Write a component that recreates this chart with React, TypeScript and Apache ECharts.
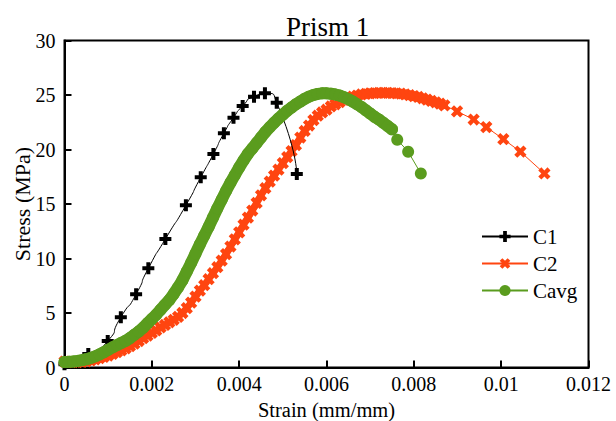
import React, { useEffect, useRef } from "react";
import * as echarts from "echarts";

const titleText = "Prism 1";
const xName = "Strain (mm/mm)";
const yName = "Stress (MPa)";
const seriesNames = ["C1", "C2", "Cavg"];

const c1Strain = [0, 0.000545, 0.00099, 0.00129, 0.00164, 0.00192, 0.00231, 0.00278, 0.00312, 0.00341, 0.00365, 0.00387, 0.00408, 0.00434, 0.00459, 0.00486, 0.00532];
const c1Stress = [0.3, 1.24, 2.43, 4.61, 6.72, 9.1, 11.79, 14.88, 17.45, 19.59, 21.49, 22.92, 23.99, 24.84, 25.16, 24.29, 17.75];

const c2Strain = [
  0, 0.0001, 0.0002, 0.0003, 0.0004, 0.0005, 0.0006, 0.0007, 0.0008, 0.0009,
  0.001, 0.0011, 0.0012, 0.0013, 0.0014, 0.0015, 0.0016, 0.0017, 0.0018, 0.0019,
  0.002, 0.0021, 0.0022, 0.0023, 0.0024, 0.0025, 0.0026, 0.0027, 0.0028, 0.0029,
  0.003, 0.0031, 0.0032, 0.0033, 0.0034, 0.0035, 0.0036, 0.0037, 0.0038, 0.0039,
  0.004, 0.0041, 0.0042, 0.0043, 0.0044, 0.0045, 0.0046, 0.0047, 0.0048, 0.0049,
  0.005, 0.0051, 0.0052, 0.0053, 0.0054, 0.0055, 0.0056, 0.0057, 0.0058, 0.0059,
  0.006, 0.0061, 0.0062, 0.0063, 0.0064, 0.0065, 0.0066, 0.0067, 0.0068, 0.0069,
  0.007, 0.0071, 0.0072, 0.0073, 0.0074, 0.0075, 0.0076, 0.0077, 0.0078, 0.0079,
  0.008, 0.0081, 0.0082, 0.0083, 0.0084, 0.0085, 0.0086, 0.0087,
  0.00899, 0.00937, 0.00966, 0.01005, 0.01044, 0.01099,
];
const c2Stress = [
  0.55, 0.52, 0.5, 0.5, 0.52, 0.57, 0.65, 0.75, 0.85, 0.98,
  1.1, 1.25, 1.4, 1.57, 1.75, 1.95, 2.18, 2.43, 2.7, 2.93,
  3.17, 3.4, 3.67, 3.9, 4.15, 4.38, 4.65, 5.0, 5.45, 5.95,
  6.5, 7.05, 7.55, 8.1, 8.65, 9.2, 9.8, 10.4, 11.1, 11.75,
  12.4, 13.1, 13.75, 14.4, 15.1, 15.8, 16.45, 17.05, 17.6, 18.15,
  18.75, 19.3, 19.85, 20.4, 21.1, 21.7, 22.2, 22.7, 23.1, 23.4,
  23.65, 23.95, 24.15, 24.35, 24.55, 24.7, 24.85, 24.95, 25.05, 25.1,
  25.15, 25.18, 25.2, 25.2, 25.2, 25.18, 25.16, 25.12, 25.05, 24.98,
  24.9, 24.82, 24.7, 24.58, 24.45, 24.33, 24.2, 24.05,
  23.5, 22.75, 22.05, 20.95, 19.8, 17.8,
];
const c2DenseCount = 88;

const cavgStrain = [
  0, 0.0001, 0.0002, 0.0003, 0.0004, 0.0005, 0.0006, 0.0007, 0.0008, 0.0009,
  0.001, 0.0011, 0.0012, 0.0013, 0.0014, 0.0015, 0.0016, 0.0017, 0.0018, 0.0019,
  0.002, 0.0021, 0.0022, 0.0023, 0.0024, 0.0025, 0.0026, 0.0027, 0.0028, 0.0029,
  0.003, 0.0031, 0.0032, 0.0033, 0.0034, 0.0035, 0.0036, 0.0037, 0.0038, 0.0039,
  0.004, 0.0041, 0.0042, 0.0043, 0.0044, 0.0045, 0.0046, 0.0047, 0.0048, 0.0049,
  0.005, 0.0051, 0.0052, 0.0053, 0.0054, 0.0055, 0.0056, 0.0057, 0.0058, 0.0059,
  0.006, 0.0061, 0.0062, 0.0063, 0.0064, 0.0065, 0.0066, 0.0067, 0.0068, 0.0069,
  0.007, 0.0071, 0.0072, 0.0073, 0.0074, 0.0075,
  0.00762, 0.00787, 0.00816,
];
const cavgStress = [
  0.5, 0.52, 0.55, 0.6, 0.67, 0.76, 0.88, 1.02, 1.2, 1.4,
  1.62, 1.85, 2.05, 2.25, 2.45, 2.7, 3.0, 3.3, 3.65, 4.05,
  4.45, 4.85, 5.3, 5.75, 6.2, 6.75, 7.35, 8.0, 8.8, 9.6,
  10.45, 11.3, 12.1, 12.9, 13.75, 14.6, 15.4, 16.2, 16.95, 17.65,
  18.35, 19.0, 19.6, 20.1, 20.6, 21.1, 21.6, 22.05, 22.45, 22.85,
  23.2, 23.55, 23.85, 24.15, 24.4, 24.65, 24.85, 25.0, 25.1, 25.15,
  25.15, 25.12, 25.05, 24.95, 24.8, 24.62, 24.4, 24.15, 23.9, 23.6,
  23.3, 23.0, 22.75, 22.45, 22.15, 21.85,
  20.9, 19.8, 17.8,
];
const cavgDenseCount = 76;

const xMin = 0;
const xMax = 0.012;
const xInterval = 0.002;
const yMin = 0;
const yMax = 30;
const yInterval = 5;

const FONT = "'Liberation Serif', 'Times New Roman', 'DejaVu Serif', serif";
const PLUS = "path://M4,0 H8 V4 H12 V8 H8 V12 H4 V8 H0 V4 H4 Z";
const BLACK = "#000000";
const ORANGE = "#FF4510";
const GREEN = "#5A9C1E";

function zip(a: number[], b: number[]) {
  return a.map((v, i) => [v, b[i]]);
}

export default function App() {
  const ref = useRef<HTMLDivElement>(null);
  useEffect(() => {
    if (!ref.current) return;
    const chart = echarts.init(ref.current, undefined, { renderer: "svg" });
    chart.setOption({
      animation: false,
      backgroundColor: "#fff",
      title: {
        text: titleText,
        left: 281,
        top: 8,
        textStyle: { fontFamily: FONT, fontSize: 27, fontWeight: "normal", color: "#000" },
      },
      grid: {
        left: 64.5,
        right: 27.5,
        top: 40.5,
        bottom: 53.5,
        containLabel: false,
        outerBoundsMode: "none",
        show: true,
        borderColor: "#000",
        borderWidth: 2,
        backgroundColor: "transparent",
      },
      legend: {
        data: seriesNames,
        orient: "vertical",
        left: 476,
        top: 221,
        itemWidth: 46,
        itemHeight: 14,
        itemGap: 6,
        textStyle: { fontFamily: FONT, fontSize: 21, color: "#000" },
      },
      xAxis: {
        type: "value",
        min: xMin,
        max: xMax,
        interval: xInterval,
        name: xName,
        nameLocation: "middle",
        nameGap: 32,
        nameMoveOverlap: false,
        nameTextStyle: { fontFamily: FONT, fontSize: 20.5, color: "#000" },
        axisLine: { show: true, lineStyle: { color: "#000", width: 2 } },
        axisTick: { show: true, inside: true, length: 7, lineStyle: { color: "#000", width: 2 } },
        axisLabel: {
          fontFamily: FONT,
          fontSize: 20,
          color: "#000",
          margin: 6,
          formatter: (v: number) => String(parseFloat(v.toFixed(4))),
        },
        splitLine: { show: false },
      },
      yAxis: {
        type: "value",
        min: yMin,
        max: yMax,
        interval: yInterval,
        name: yName,
        nameLocation: "middle",
        nameGap: 31,
        nameMoveOverlap: false,
        nameTextStyle: { fontFamily: FONT, fontSize: 22, color: "#000" },
        axisLine: { show: true, lineStyle: { color: "#000", width: 2 } },
        axisTick: { show: true, inside: true, length: 7, lineStyle: { color: "#000", width: 2 } },
        axisLabel: { fontFamily: FONT, fontSize: 20, color: "#000", margin: 9 },
        splitLine: { show: false },
      },
      series: [
        {
          name: "C2 band",
          type: "line",
          data: zip(c2Strain.slice(0, c2DenseCount), c2Stress.slice(0, c2DenseCount)),
          showSymbol: false,
          symbol: "none",
          silent: true,
          lineStyle: { color: ORANGE, width: 7, cap: "round", join: "round" },
          z: 2,
        },
        {
          name: "C2",
          type: "line",
          data: zip(c2Strain, c2Stress),
          symbol: PLUS,
          symbolSize: 13,
          symbolRotate: 45,
          color: ORANGE,
          lineStyle: { color: ORANGE, width: 1 },
          itemStyle: { color: ORANGE },
          z: 2,
        },
        {
          name: "C1",
          type: "line",
          data: zip(c1Strain, c1Stress),
          smooth: 0.9,
          symbol: PLUS,
          symbolSize: 12,
          color: BLACK,
          lineStyle: { color: BLACK, width: 1 },
          itemStyle: { color: BLACK },
          z: 3,
        },
        {
          name: "Cavg band",
          type: "line",
          data: zip(cavgStrain.slice(0, cavgDenseCount), cavgStress.slice(0, cavgDenseCount)),
          showSymbol: false,
          symbol: "none",
          silent: true,
          lineStyle: { color: GREEN, width: 12, cap: "round", join: "round" },
          z: 4,
        },
        {
          name: "Cavg",
          type: "line",
          data: zip(cavgStrain, cavgStress),
          symbol: "circle",
          symbolSize: 12,
          color: GREEN,
          lineStyle: { color: GREEN, width: 1 },
          itemStyle: { color: GREEN },
          z: 4,
        },
      ],
    });
    return () => chart.dispose();
  }, []);
  return (
    <div
      ref={ref}
      style={{ position: "fixed", left: 0, top: 0, width: 616, height: 421 }}
    />
  );
}
